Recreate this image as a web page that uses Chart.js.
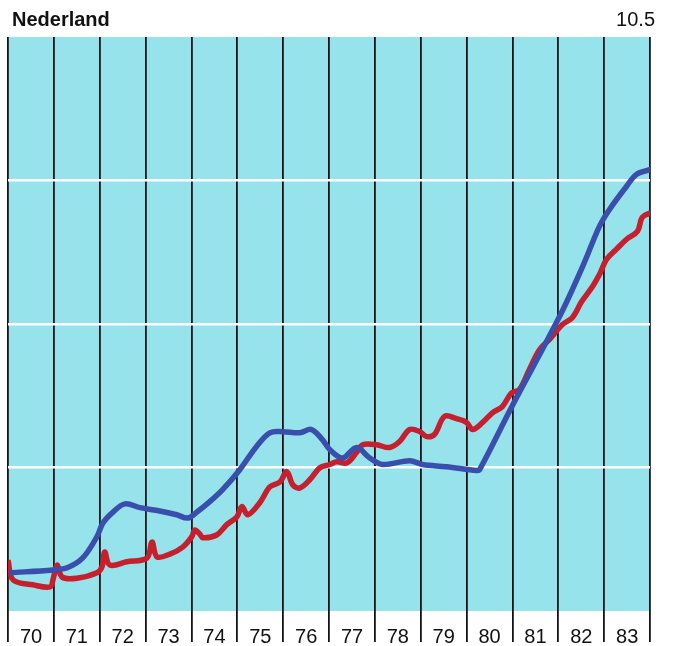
<!DOCTYPE html>
<html>
<head>
<meta charset="utf-8">
<script src="https://cdn.jsdelivr.net/npm/chart.js@4/dist/chart.umd.min.js"></script>
<style>
    html, body { margin: 0; padding: 0; background: #ffffff; }
    #wrap { width: 675px; height: 646px; }
</style>
</head>
<body>
<div id="wrap"><canvas id="chart" width="675" height="646"></canvas></div>
<script>
// Chart data (years as decimals, values on a 0 - 10.5 scale)
const title = 'Nederland';
const topValue = '10.5';
const yearLabels = ['70', '71', '72', '73', '74', '75', '76', '77', '78', '79', '80', '81', '82', '83'];

const blueYears = [70.04, 70.98, 71.29, 71.63, 71.94, 72.07, 72.29, 72.55, 72.88, 73.31, 73.68, 73.92,
    74.12, 74.40, 74.68, 75.05, 75.42, 75.71, 75.99, 76.36, 76.62, 76.86, 77.02, 77.30, 77.60, 77.89,
    78.17, 78.76, 79.04, 79.56, 80.22, 80.28, 81.00, 82.03, 82.53, 82.90, 83.12, 83.49, 83.71, 84.03];
const blueValues = [0.70, 0.75, 0.79, 0.97, 1.36, 1.61, 1.81, 1.96, 1.89, 1.83, 1.76, 1.70,
    1.81, 2.00, 2.22, 2.58, 3.01, 3.26, 3.28, 3.26, 3.32, 3.13, 2.95, 2.80, 2.99, 2.80,
    2.68, 2.75, 2.68, 2.64, 2.57, 2.58, 3.76, 5.39, 6.30, 7.04, 7.35, 7.77, 7.99, 8.08];

const redYears = [70.00, 70.11, 70.54, 70.92, 70.98, 71.07, 71.18, 71.50, 71.94, 72.05, 72.11, 72.22,
    72.59, 73.03, 73.14, 73.25, 73.53, 73.81, 74.01, 74.07, 74.18, 74.25, 74.55, 74.77, 74.99, 75.10,
    75.23, 75.49, 75.71, 75.93, 76.08, 76.21, 76.36, 76.58, 76.80, 77.02, 77.17, 77.39, 77.60, 77.73,
    78.04, 78.32, 78.54, 78.76, 78.98, 79.13, 79.30, 79.52, 79.78, 80.00, 80.13, 80.35, 80.57, 80.78,
    80.98, 81.15, 81.37, 81.59, 81.81, 82.09, 82.31, 82.51, 82.75, 82.90, 83.05, 83.27, 83.49, 83.73,
    83.83, 84.03];
const redValues = [0.93, 0.57, 0.48, 0.44, 0.57, 0.84, 0.62, 0.60, 0.70, 0.81, 1.08, 0.84,
    0.90, 0.97, 1.26, 0.99, 1.04, 1.17, 1.36, 1.48, 1.41, 1.34, 1.39, 1.58, 1.72, 1.91,
    1.76, 1.98, 2.27, 2.36, 2.55, 2.31, 2.25, 2.40, 2.62, 2.68, 2.73, 2.71, 2.90, 3.04,
    3.04, 2.99, 3.10, 3.32, 3.28, 3.19, 3.23, 3.56, 3.52, 3.45, 3.32, 3.45, 3.63, 3.74,
    3.99, 4.05, 4.42, 4.78, 4.97, 5.24, 5.37, 5.66, 5.94, 6.16, 6.43, 6.62, 6.80, 6.95,
    7.20, 7.29];

const toPoints = (xs, ys) => xs.map((x, i) => ({ x: x, y: ys[i] }));

// Cyan plot background plus the two header texts
const paperPlugin = {
    id: 'paper',
    beforeDraw(chart) {
        const { ctx, chartArea } = chart;
        ctx.save();
        ctx.fillStyle = '#97e3ec';
        ctx.fillRect(chartArea.left, chartArea.top, chartArea.right - chartArea.left, chartArea.bottom - chartArea.top);
        ctx.restore();
    },
    afterDraw(chart) {
        const { ctx, chartArea } = chart;
        ctx.save();
        ctx.fillStyle = '#111111';
        ctx.textBaseline = 'alphabetic';
        ctx.font = 'bold 20px "Liberation Sans", Arial, sans-serif';
        ctx.textAlign = 'left';
        ctx.fillText(title, 12, 26);
        ctx.font = '20px "Liberation Sans", Arial, sans-serif';
        ctx.textAlign = 'right';
        ctx.fillText(topValue, chartArea.right + 5, 26);
        ctx.restore();
    }
};

new Chart(document.getElementById('chart'), {
    type: 'line',
    data: {
        datasets: [{
            label: 'blue',
            data: toPoints(blueYears, blueValues),
            borderColor: '#3a4fab',
            borderWidth: 5.5,
            tension: 0.35,
            pointRadius: 0,
            order: 1
        }, {
            label: 'red',
            data: toPoints(redYears, redValues),
            borderColor: '#c61f2d',
            borderWidth: 5.5,
            tension: 0.35,
            pointRadius: 0,
            order: 2
        }]
    },
    options: {
        responsive: false,
        animation: false,
        layout: { padding: { left: 8, right: 25, top: 37, bottom: 0 } },
        plugins: {
            legend: { display: false },
            tooltip: { enabled: false }
        },
        scales: {
            x: {
                type: 'linear',
                min: 70,
                max: 84,
                border: { display: false },
                grid: {
                    color: '#141414',
                    lineWidth: 1.8,
                    drawTicks: true,
                    tickLength: 31
                },
                ticks: {
                    stepSize: 1,
                    autoSkip: false,
                    maxRotation: 0,
                    padding: -17,
                    labelOffset: 23,
                    color: '#111111',
                    font: { family: '"Liberation Sans", Arial, sans-serif', size: 20 },
                    callback: (value) => yearLabels[Math.round(value) - 70] || ''
                },
                afterFit(scale) { scale.height = 35; }
            },
            y: {
                min: 0,
                max: 10.5,
                border: { display: false },
                grid: {
                    drawTicks: false,
                    lineWidth: 2.5,
                    color: (c) => (c.tick && c.tick.value > 0 && c.tick.value < 10.5) ? '#ffffff' : 'rgba(0,0,0,0)'
                },
                ticks: { display: false, stepSize: 2.625 },
                afterFit(scale) { scale.width = 0; }
            }
        }
    },
    plugins: [paperPlugin]
});
</script>
</body>
</html>
